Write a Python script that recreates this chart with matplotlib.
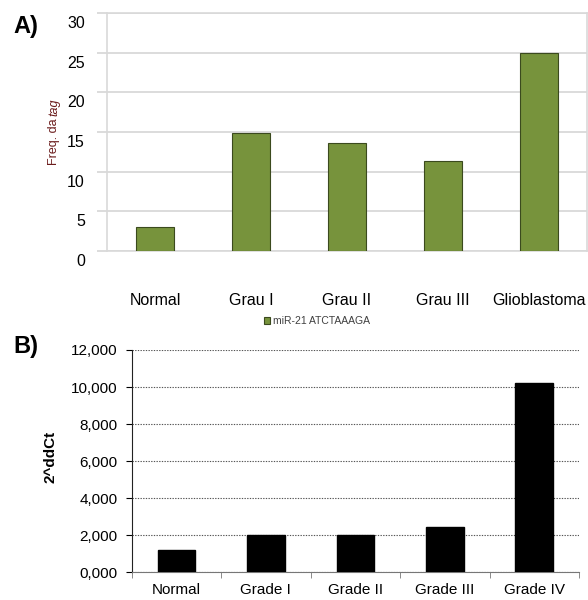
import matplotlib
matplotlib.use("Agg")
import matplotlib.pyplot as plt
import matplotlib.transforms as mtransforms
from matplotlib.ticker import FuncFormatter, FixedLocator

plt.rcParams["font.family"] = ["Liberation Sans", "DejaVu Sans"]

# Panel A data
cats_a = ["Normal", "Grau I", "Grau II", "Grau III", "Glioblastoma"]
freq_a = [3.0, 14.9, 13.6, 11.3, 24.9]
series_a = "miR-21 ATCTAAAGA"

# Panel B data
cats_b = ["Normal", "Grade I", "Grade II", "Grade III", "Grade IV"]
ddct_b = [1.2, 2.0, 2.02, 2.45, 10.2]

fig = plt.figure(figsize=(5.88, 6.0), dpi=100)

# ---- Panel A ----
ax_a = fig.add_axes([0.182, 0.5817, 0.816, 0.3967])
xa = range(len(cats_a))
ax_a.bar(xa, freq_a, width=0.4, color="#77933c", edgecolor="#3b4a1e",
         linewidth=0.8, zorder=3, label=series_a)
ax_a.set_xlim(-0.5, len(cats_a) - 0.5)
ax_a.set_ylim(0, 30)
ax_a.set_yticks(range(0, 31, 5))
ax_a.grid(axis="y", color="#d9d9d9", linewidth=1.3, zorder=0)
for s in ax_a.spines.values():
    s.set_color("#d9d9d9")
    s.set_linewidth(1.2)
ax_a.set_xticks(list(xa))
ax_a.set_xticklabels(cats_a, fontsize=11.5)
ax_a.tick_params(axis="x", length=0, pad=30)
ax_a.tick_params(axis="y", length=7, color="#d9d9d9", width=1.3,
                 labelsize=11.5, pad=9)
shift = mtransforms.ScaledTranslation(0, -9 / 100, fig.dpi_scale_trans)
for lbl in ax_a.get_yticklabels():
    lbl.set_transform(lbl.get_transform() + shift)
# y label in two parts: "tag" is italic
fig.text(54 / 588, 1 - 141.5 / 600, "Freq. da", rotation=90, fontsize=9,
         color="#6b1c1c", ha="center", va="center")
fig.text(54 / 588, 1 - 107.5 / 600, "tag", rotation=90, fontsize=9,
         style="italic", color="#6b1c1c", ha="center", va="center")
ax_a.legend(loc="center", bbox_to_anchor=(0.4375, -0.294), frameon=False,
            fontsize=7.5, handlelength=0.6, handleheight=0.6,
            handletextpad=0.3, labelcolor="#404040")
fig.text(0.022, 0.955, "A)", fontsize=17, fontweight="bold", va="center")

# ---- Panel B ----
ax_b = fig.add_axes([0.224, 0.0462, 0.7607, 0.3705])
xb = range(len(cats_b))
ax_b.bar(xb, ddct_b, width=0.42, color="black", edgecolor="black", zorder=3)
ax_b.set_xlim(-0.5, len(cats_b) - 0.5)
ax_b.set_ylim(0, 12)
ax_b.set_yticks(range(0, 13, 2))
ax_b.yaxis.set_major_formatter(FuncFormatter(lambda v, p: f"{v:.3f}".replace(".", ",")))
ax_b.grid(axis="y", color="#555555", linestyle=(0, (1.2, 1.2)), linewidth=0.8, zorder=0)
ax_b.spines["top"].set_visible(False)
ax_b.spines["right"].set_visible(False)
ax_b.spines["left"].set_color("#222222")
ax_b.spines["bottom"].set_color("#777777")
ax_b.set_xticks(list(xb))
ax_b.set_xticklabels(cats_b, fontsize=11)
ax_b.xaxis.set_minor_locator(FixedLocator([i + 0.5 for i in range(len(cats_b))] + [-0.5]))
ax_b.tick_params(axis="x", which="major", length=0, pad=8)
ax_b.tick_params(axis="x", which="minor", length=4, color="#777777")
ax_b.tick_params(axis="y", length=4, labelsize=11, pad=6)
ax_b.set_ylabel("2^ddCt", fontsize=11, fontweight="bold")
ax_b.yaxis.set_label_coords(-0.165, 0.52)
fig.text(0.022, 0.422, "B)", fontsize=17, fontweight="bold", va="center")

fig.savefig("out.png", dpi=100)
